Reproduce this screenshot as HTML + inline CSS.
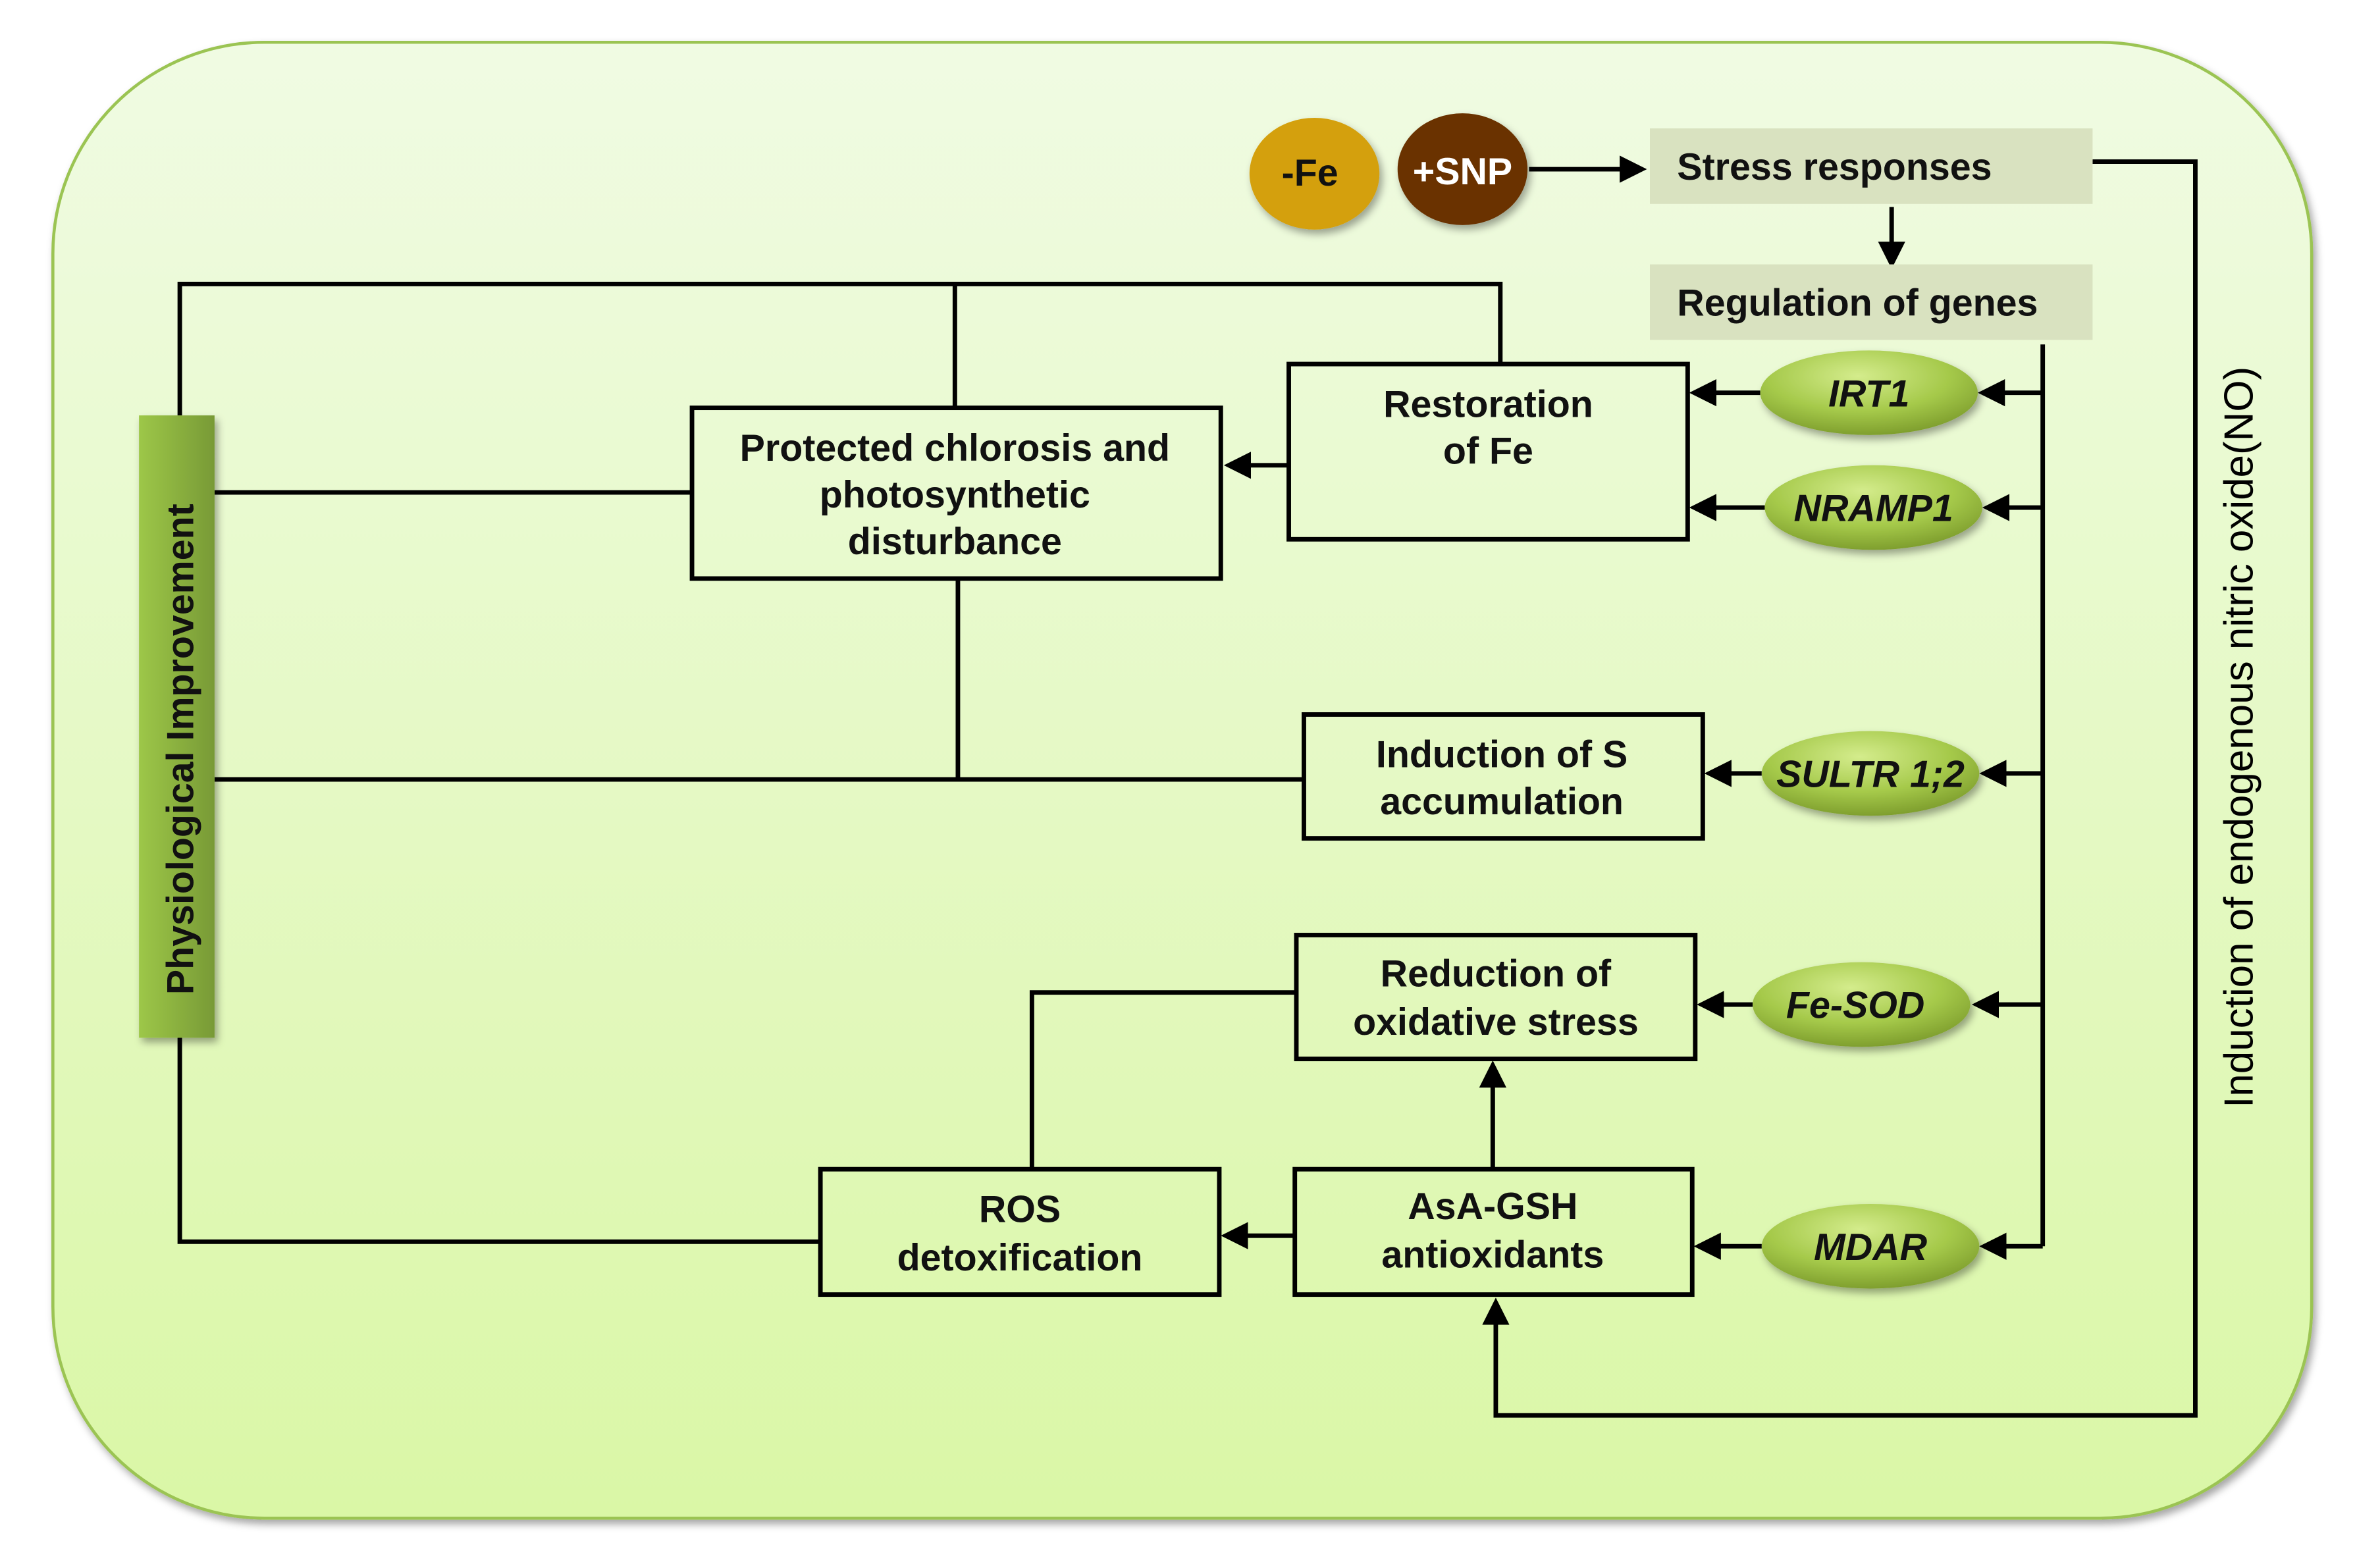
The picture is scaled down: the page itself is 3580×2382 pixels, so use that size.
<!DOCTYPE html>
<html><head><meta charset="utf-8"><style>html,body{margin:0;padding:0;background:#fff}svg{display:block}</style></head>
<body>
<svg width="3580" height="2382" viewBox="0 0 1560 1038" preserveAspectRatio="none" xmlns="http://www.w3.org/2000/svg" font-family="Liberation Sans, sans-serif" font-weight="bold">
<defs>
<linearGradient id="bg" x1="0" y1="0" x2="0" y2="1"><stop offset="0" stop-color="#f0fbe3"/><stop offset="1" stop-color="#daf7a6"/></linearGradient>
<linearGradient id="bar" x1="0" y1="0" x2="1" y2="0"><stop offset="0" stop-color="#9dc748"/><stop offset="1" stop-color="#789a36"/></linearGradient>
<radialGradient id="ell" cx="0.45" cy="0.3" r="0.7"><stop offset="0" stop-color="#d4ec8c"/><stop offset="0.6" stop-color="#a5c94a"/><stop offset="1" stop-color="#7f9f2e"/></radialGradient>
<marker id="ah" markerWidth="6" markerHeight="6" refX="5" refY="3" orient="auto" markerUnits="strokeWidth"><path d="M0,0 L6,3 L0,6 z" fill="#000"/></marker>
<filter id="sh" x="-20%" y="-20%" width="140%" height="140%"><feDropShadow dx="2" dy="3" stdDeviation="2.5" flood-opacity="0.35"/></filter>
</defs>
<rect x="35" y="28" width="1495" height="977" rx="140" fill="url(#bg)" stroke="#9bc453" stroke-width="2" filter="url(#sh)"/>
<g stroke="#000" stroke-width="3" fill="none">
<polyline points="119,275 119,188 993,188 993,241"/>
<line x1="632" y1="188" x2="632" y2="270"/>
<line x1="142" y1="326" x2="458" y2="326"/>
<line x1="634" y1="383" x2="634" y2="516"/>
<line x1="142" y1="516" x2="863" y2="516"/>
<polyline points="858,657 683,657 683,774"/>
<polyline points="543,822 119,822 119,687"/>
<line x1="1352" y1="228" x2="1352" y2="825"/>
<polyline points="1385,107 1453,107 1453,937 990,937 990,862" marker-end="url(#ah)"/>
<line x1="1012" y1="112" x2="1087" y2="112" marker-end="url(#ah)"/>
<line x1="1252" y1="137" x2="1252" y2="175" marker-end="url(#ah)"/>
<line x1="1352" y1="260" x2="1312" y2="260" marker-end="url(#ah)"/>
<line x1="1352" y1="336" x2="1315" y2="336" marker-end="url(#ah)"/>
<line x1="1352" y1="512" x2="1313" y2="512" marker-end="url(#ah)"/>
<line x1="1352" y1="665" x2="1308" y2="665" marker-end="url(#ah)"/>
<line x1="1352" y1="825" x2="1313" y2="825" marker-end="url(#ah)"/>
<line x1="1165" y1="260" x2="1121" y2="260" marker-end="url(#ah)"/>
<line x1="1168" y1="336" x2="1121" y2="336" marker-end="url(#ah)"/>
<line x1="1166" y1="512" x2="1131" y2="512" marker-end="url(#ah)"/>
<line x1="1160" y1="665" x2="1126" y2="665" marker-end="url(#ah)"/>
<line x1="1166" y1="825" x2="1124" y2="825" marker-end="url(#ah)"/>
<line x1="853" y1="308" x2="813" y2="308" marker-end="url(#ah)"/>
<line x1="857" y1="818" x2="811" y2="818" marker-end="url(#ah)"/>
<line x1="988" y1="774" x2="988" y2="705" marker-end="url(#ah)"/>
</g>
<g filter="url(#sh)">
<ellipse cx="870" cy="115" rx="43" ry="37" fill="#d4a00a"/>
<ellipse cx="968" cy="112" rx="43" ry="37" fill="#6b3300"/>
<rect x="92" y="275" width="50" height="412" fill="url(#bar)"/>
<ellipse cx="1237" cy="260" rx="72" ry="28" fill="url(#ell)"/>
<ellipse cx="1240" cy="336" rx="72" ry="28" fill="url(#ell)"/>
<ellipse cx="1238" cy="512" rx="72" ry="28" fill="url(#ell)"/>
<ellipse cx="1232" cy="665" rx="72" ry="28" fill="url(#ell)"/>
<ellipse cx="1238" cy="825" rx="72" ry="28" fill="url(#ell)"/>
</g>
<rect x="1092" y="85" width="293" height="50" fill="#d9e2c0"/>
<rect x="1092" y="175" width="293" height="50" fill="#d9e2c0"/>
<g stroke="#000" stroke-width="3" fill="none">
<rect x="853" y="241" width="264" height="116"/>
<rect x="458" y="270" width="350" height="113"/>
<rect x="863" y="473" width="264" height="82"/>
<rect x="858" y="619" width="264" height="82"/>
<rect x="857" y="774" width="263" height="83"/>
<rect x="543" y="774" width="264" height="83"/>
</g>
<g font-size="25" fill="#111" text-anchor="middle">
<text x="867" y="123">-Fe</text>
<text x="968" y="122" fill="#fff">+SNP</text>
<text x="1110" y="119" text-anchor="start">Stress responses</text>
<text x="1110" y="209" text-anchor="start">Regulation of genes</text>
<text x="985" y="276">Restoration</text>
<text x="985" y="307">of Fe</text>
<text x="632" y="305">Protected chlorosis and</text>
<text x="632" y="336">photosynthetic</text>
<text x="632" y="367">disturbance</text>
<text x="994" y="508">Induction of S</text>
<text x="994" y="539">accumulation</text>
<text x="990" y="653">Reduction of</text>
<text x="990" y="685">oxidative stress</text>
<text x="988" y="807">AsA-GSH</text>
<text x="988" y="839">antioxidants</text>
<text x="675" y="809">ROS</text>
<text x="675" y="841">detoxification</text>
<g font-style="italic" font-size="25">
<text x="1237" y="269">IRT1</text>
<text x="1240" y="345">NRAMP1</text>
<text x="1238" y="521">SULTR 1;2</text>
<text x="1228" y="674">Fe-SOD</text>
<text x="1238" y="834">MDAR</text>
</g>
<text transform="translate(128,496) rotate(-90)">Physiological Improvement</text>
<text transform="translate(1491,488) rotate(-90)" font-weight="normal" font-size="27" fill="#000">Induction of endogenous nitric oxide(NO)</text>
</g>
</svg>
</body></html>
